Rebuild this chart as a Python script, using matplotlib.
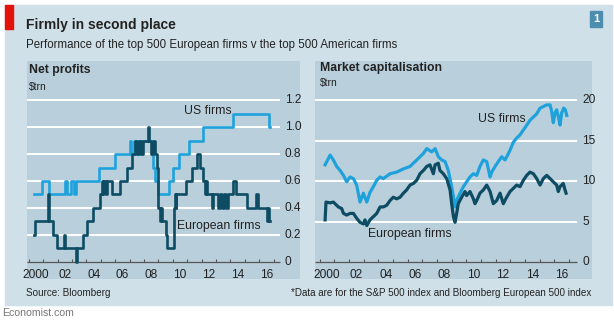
import matplotlib
matplotlib.use("Agg")
import matplotlib.pyplot as plt
from matplotlib.patches import Rectangle

plt.rcParams['font.family'] = ['Liberation Sans', 'DejaVu Sans']

# Net profits, $trn (quarterly figures, drawn as steps)
us_profit_years = [2000.35, 2000.9, 2001.4, 2002.5, 2002.65, 2002.95, 2003.1, 2003.3,
                   2004.87, 2005.98, 2007.0, 2007.1, 2007.3, 2007.45, 2007.55, 2007.7,
                   2007.8, 2008.6, 2008.75, 2008.95, 2009.75, 2010.0, 2010.45, 2011.15,
                   2012.1, 2014.2, 2016.7, 2016.75]
us_profit = [0.5, 0.6, 0.5, 0.6, 0.5, 0.6, 0.5, 0.6,
             0.7, 0.8, 0.9, 0.8, 0.9, 0.8, 0.9, 0.8,
             0.9, 0.7, 0.6, 0.5, 0.6, 0.7, 0.8, 0.9,
             1.0, 1.1, 1.0, 1.0]

eu_profit_years = [2000.35, 2000.42, 2001.33, 2001.37, 2001.70, 2001.97, 2002.45, 2002.5,
                   2003.28, 2003.33, 2003.78, 2004.01, 2004.47, 2004.94, 2005.05, 2005.15,
                   2005.25, 2005.35, 2005.45, 2005.75, 2006.32, 2006.79, 2007.13, 2007.37,
                   2007.5, 2007.65, 2007.8, 2007.95, 2008.25, 2008.32, 2008.5, 2008.6,
                   2008.76, 2008.87, 2008.95, 2009.0, 2009.1, 2009.15, 2009.25, 2009.55,
                   2009.6, 2010.1, 2010.15, 2010.2, 2010.25, 2010.9, 2011.3, 2011.65,
                   2011.9, 2012.1, 2012.2, 2012.3, 2012.4, 2012.7, 2012.8, 2013.15,
                   2013.3, 2013.4, 2013.55, 2013.7, 2013.8, 2014.2, 2014.4, 2015.12,
                   2015.8, 2015.9, 2016.55, 2016.6, 2016.7, 2016.75]
eu_profit = [0.2, 0.3, 0.5, 0.3, 0.2, 0.1, 0.2, 0.1,
             0.0, 0.1, 0.2, 0.3, 0.4, 0.5, 0.6, 0.5,
             0.6, 0.5, 0.6, 0.5, 0.6, 0.7, 0.8, 0.9,
             0.8, 0.9, 0.8, 0.9, 1.0, 0.9, 0.8, 0.9,
             0.8, 0.7, 0.6, 0.4, 0.3, 0.4, 0.3, 0.2,
             0.1, 0.4, 0.5, 0.4, 0.5, 0.6, 0.7, 0.8,
             0.7, 0.6, 0.5, 0.6, 0.5, 0.4, 0.5, 0.4,
             0.5, 0.4, 0.5, 0.4, 0.5, 0.6, 0.5, 0.4,
             0.5, 0.4, 0.3, 0.4, 0.3, 0.3]

# Market capitalisation, $trn
us_cap_years = [2000.37, 2000.71, 2000.93, 2001.16, 2001.39, 2001.62, 2001.84, 2002.07,
                2002.30, 2002.52, 2002.75, 2002.98, 2003.21, 2003.43, 2003.66, 2003.89,
                2004.12, 2004.34, 2004.80, 2005.25, 2005.71, 2006.16, 2006.62, 2007.07,
                2007.30, 2007.64, 2007.87, 2008.09, 2008.32, 2008.55, 2008.77, 2009.00,
                2009.12, 2009.23, 2009.34, 2009.57, 2009.80, 2010.02, 2010.25, 2010.48,
                2010.71, 2010.93, 2011.16, 2011.39, 2011.62, 2011.73, 2011.96, 2012.18,
                2012.41, 2012.64, 2012.87, 2012.98, 2013.21, 2013.43, 2013.66, 2013.89,
                2014.12, 2014.34, 2014.57, 2014.80, 2015.03, 2015.25, 2015.48, 2015.71,
                2015.82, 2015.93, 2016.05, 2016.16, 2016.27, 2016.39, 2016.50, 2016.64,
                2016.75, 2016.85]
us_cap = [12.0, 13.2, 12.6, 11.8, 11.3, 10.7, 9.9, 10.5,
          10.3, 9.5, 7.4, 8.5, 7.4, 8.6, 9.3, 10.1,
          10.5, 10.3, 10.9, 11.1, 11.5, 11.8, 12.6, 13.4,
          14.0, 13.6, 14.0, 13.0, 12.6, 12.4, 11.3, 9.3,
          8.0, 6.8, 7.6, 8.5, 9.3, 9.9, 10.5, 10.9,
          10.7, 11.8, 12.6, 12.4, 10.5, 11.1, 11.8, 12.4,
          13.0, 12.6, 13.4, 13.8, 14.8, 15.3, 15.7, 16.3,
          16.9, 17.5, 17.9, 18.3, 19.0, 19.2, 19.4, 19.4,
          18.6, 17.2, 18.4, 18.8, 18.0, 16.9, 18.4, 19.0,
          18.8, 18.1]

eu_cap_years = [2000.37, 2000.43, 2000.71, 2000.93, 2001.16, 2001.27, 2001.50, 2001.62,
                2001.84, 2002.07, 2002.30, 2002.52, 2002.75, 2002.98, 2003.09, 2003.21,
                2003.43, 2003.66, 2003.89, 2004.12, 2004.34, 2004.57, 2004.80, 2005.02,
                2005.25, 2005.48, 2005.71, 2005.93, 2006.16, 2006.39, 2006.62, 2006.84,
                2007.07, 2007.30, 2007.52, 2007.75, 2007.87, 2008.09, 2008.20, 2008.43,
                2008.66, 2008.89, 2009.00, 2009.12, 2009.23, 2009.34, 2009.45, 2009.68,
                2009.91, 2010.02, 2010.25, 2010.48, 2010.59, 2010.71, 2010.93, 2011.16,
                2011.39, 2011.62, 2011.84, 2012.07, 2012.30, 2012.52, 2012.75, 2012.98,
                2013.21, 2013.43, 2013.66, 2013.89, 2014.12, 2014.34, 2014.57, 2014.80,
                2015.03, 2015.25, 2015.48, 2015.71, 2015.93, 2016.16, 2016.27, 2016.39,
                2016.61, 2016.73, 2016.80]
eu_cap = [5.2, 7.4, 7.3, 7.4, 7.0, 6.8, 6.6, 6.0,
          5.8, 6.0, 6.0, 5.4, 4.9, 4.7, 5.2, 4.5,
          5.2, 5.6, 6.0, 6.8, 6.8, 7.0, 7.6, 8.0,
          7.8, 8.0, 8.5, 8.9, 9.5, 9.7, 10.1, 10.9,
          11.3, 11.8, 12.0, 10.9, 12.0, 12.2, 11.3, 10.9,
          10.3, 8.9, 7.2, 5.6, 4.9, 6.0, 7.2, 8.0,
          8.7, 8.2, 8.7, 7.8, 7.2, 7.6, 8.5, 8.9,
          9.5, 8.7, 7.2, 7.6, 8.5, 7.2, 8.0, 8.7,
          9.1, 9.5, 9.3, 10.1, 10.7, 11.1, 10.9, 10.3,
          9.5, 10.3, 10.7, 10.3, 9.9, 9.5, 8.7, 9.3,
          9.7, 8.9, 8.5]

profit_ticks = [0, 0.2, 0.4, 0.6, 0.8, 1.0, 1.2]
profit_labels = ['0', '0.2', '0.4', '0.6', '0.8', '1.0', '1.2']
cap_ticks = [0, 5, 10, 15, 20]
cap_labels = ['0', '5', '10', '15', '20']
year_ticks = list(range(2000, 2018))
year_labels = ['2000', '02', '04', '06', '08', '10', '12', '14', '16']

US_BLUE = '#1fa2dc'
EU_BLUE = '#0d4c63'
OUTER_BG = '#d0e0e8'
PANEL_BG = '#b9d0dc'
TEXT = '#222222'

W, H = 614, 328
fig = plt.figure(figsize=(W / 100, H / 100), dpi=100)


def box(x0, y0, x1, y1):
    # pixel box (top-left origin) -> figure fraction rect
    return [x0 / W, 1 - y1 / H, (x1 - x0) / W, (y1 - y0) / H]


def fx(x):
    return x / W


def fy(y):
    return 1 - y / H


fig.patches.append(Rectangle((fx(5), fy(305)), (612 - 5) / W, (305 - 5) / H,
                             transform=fig.transFigure, color=OUTER_BG, zorder=-10))
fig.patches.append(Rectangle((fx(5), fy(29)), 8 / W, 24 / H,
                             transform=fig.transFigure, color='#e3120b', zorder=-5))
fig.patches.append(Rectangle((fx(590), fy(27)), 12 / W, 16 / H,
                             transform=fig.transFigure, color='#4d8db0', zorder=-5))
fig.text(fx(596), fy(19), '1', color='white', fontsize=8, fontweight='bold',
         ha='center', va='center')

fig.text(fx(26), fy(25), 'Firmly in second place', fontsize=10, fontweight='bold',
         color=TEXT, va='center')
fig.text(fx(26), fy(45), 'Performance of the top 500 European firms v the top 500 American firms',
         fontsize=8.3, color=TEXT, va='center')
fig.text(fx(26), fy(293), 'Source: Bloomberg', fontsize=7.1, color=TEXT, va='center')
fig.text(fx(591), fy(293), '*Data are for the S&P 500 index and Bloomberg European 500 index',
         fontsize=7.1, color=TEXT, va='center', ha='right')
fig.text(fx(2), fy(313), 'Economist.com', fontsize=7.6, color='#777777', va='center')


def panel(rect, xlim, ylim, grid_end, ticks, labels, tick_h, label_y):
    ax = fig.add_axes(rect)
    ax.set_facecolor(PANEL_BG)
    ax.set_xlim(*xlim)
    ax.set_ylim(*ylim)
    for s in ax.spines.values():
        s.set_visible(False)
    ax.set_xticks([])
    ax.set_yticks([])
    for t, lab in zip(ticks, labels):
        if t == 0:
            ax.hlines(t, xlim[0], grid_end, color='#555555', lw=0.9, zorder=2)
        else:
            ax.hlines(t, xlim[0], grid_end, color='white', lw=1.4, zorder=1)
        ax.text(grid_end + 0.35, t, lab, fontsize=8.6, color=TEXT, va='center', ha='left')
    ax.vlines(year_ticks, 0, tick_h, color='#555555', lw=0.8, zorder=2)
    for i, lab in enumerate(year_labels):
        ax.text(2000.5 + 2 * i, label_y, lab, fontsize=8.6, color=TEXT,
                ha='center', va='center')
    return ax


ax1 = panel(box(27, 61, 300, 279), (1999.87, 2018.83), (-0.126, 1.489), 2017.43,
            profit_ticks, profit_labels, 0.024, -0.099)
ax1.step(us_profit_years, us_profit, where='post', color=US_BLUE, lw=1.9, zorder=3)
ax1.step(eu_profit_years, eu_profit, where='post', color=EU_BLUE, lw=1.9, zorder=4)
ax1.text(2000.0, 1.42, 'Net profits', fontsize=8.8, fontweight='bold', color=TEXT, va='center')
ax1.text(2000.0, 1.30, '$trn', fontsize=7.4, color=TEXT, va='center')
ax1.text(2012.4, 1.12, 'US firms', fontsize=8.8, color=TEXT, ha='center', va='center')
ax1.text(2013.2, 0.27, 'European firms', fontsize=8.8, color=TEXT, ha='center', va='center')

ax2 = panel(box(315, 61, 592, 279), (1999.68, 2018.57), (-2.10, 24.82), 2017.55,
            cap_ticks, cap_labels, 0.37, -1.645)
ax2.plot(us_cap_years, us_cap, color=US_BLUE, lw=2.3, zorder=3)
ax2.plot(eu_cap_years, eu_cap, color=EU_BLUE, lw=2.3, zorder=4)
ax2.text(2000.0, 24.0, 'Market capitalisation', fontsize=8.8, fontweight='bold',
         color=TEXT, va='center')
ax2.text(2000.0, 22.1, '$trn', fontsize=7.4, color=TEXT, va='center')
ax2.text(2012.45, 17.7, 'US firms', fontsize=8.8, color=TEXT, ha='center', va='center')
ax2.text(2006.15, 3.5, 'European firms', fontsize=8.8, color=TEXT, ha='center', va='center')

fig.savefig('out.png', dpi=100)
